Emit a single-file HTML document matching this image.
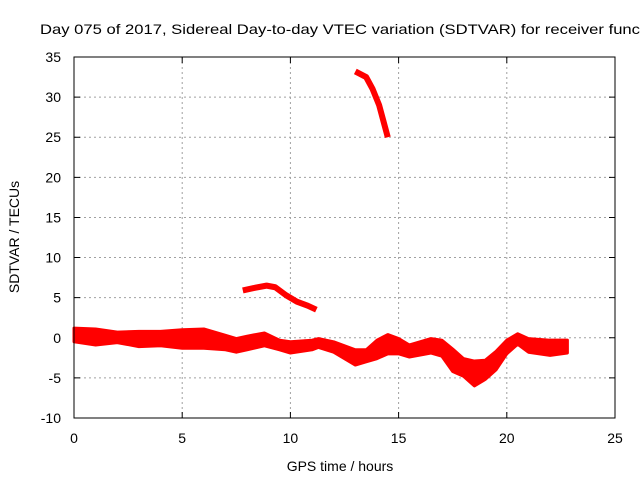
<!DOCTYPE html>
<html><head><meta charset="utf-8"><style>
html,body{margin:0;padding:0;background:#fff;}
svg{display:block;font-family:"Liberation Sans",sans-serif;}
</style></head><body>
<svg id="chart" width="640" height="480" viewBox="0 0 640 480">
<rect x="0" y="0" width="640" height="480" fill="#fff"/>
<text x="40" y="34" font-size="14" fill="#000" textLength="600" lengthAdjust="spacingAndGlyphs">Day 075 of 2017, Sidereal Day-to-day VTEC variation (SDTVAR) for receiver func</text>
<g id="grid"></g>
<g id="axes"></g>
<g id="series"></g>
<rect x="74" y="57" width="541" height="361" fill="none" stroke="#000" stroke-width="1"/>
<text x="340" y="471" font-size="14" text-anchor="middle">GPS time / hours</text>
<text transform="translate(19,237) rotate(-90)" font-size="14" text-anchor="middle">SDTVAR / TECUs</text>
</svg>
<script>
const xTicks = [0,5,10,15,20,25];
const yTicks = [-10,-5,0,5,10,15,20,25,30,35];
const bandHours = [0,1,2,3,4,5,6,7,7.5,8,8.8,9.5,10,11,11.3,12,13,13.5,14,14.5,15,15.5,16.5,17,17.5,18,18.5,19,19.5,20,20.5,21,22,22.8];
const bandUpper = [1.2,1.1,0.7,0.8,0.8,1.0,1.1,0.3,-0.1,0.2,0.6,-0.3,-0.5,-0.3,-0.1,-0.5,-1.5,-1.5,-0.3,0.4,-0.1,-0.9,-0.1,-0.3,-1.4,-2.6,-2.9,-2.8,-1.7,-0.3,0.5,-0.1,-0.3,-0.3];
const bandLower = [-0.5,-0.9,-0.6,-1.1,-1.0,-1.3,-1.3,-1.5,-1.8,-1.5,-1.0,-1.5,-1.9,-1.5,-1.2,-1.8,-3.4,-3.0,-2.6,-2.0,-2.0,-2.4,-1.9,-2.3,-4.2,-4.8,-6.0,-5.2,-4.0,-2.0,-0.8,-1.8,-2.2,-1.9];
const arcHours = [7.8,8.3,8.9,9.3,9.8,10.3,10.8,11.2];
const arcValues = [5.9,6.2,6.5,6.3,5.3,4.5,4.0,3.5];
const highHours = [13,13.5,13.8,14.1,14.3,14.5];
const highValues = [33.2,32.5,31,29,27,25];

const X0=74,X1=615,Y0=418,Y1=57;
const sx=h=>X0+(h-0)/(25-0)*(X1-X0);
const sy=v=>Y0-(v+10)/(45)*(Y0-Y1);
const NS="http://www.w3.org/2000/svg";
const grid=document.getElementById('grid'),axes=document.getElementById('axes'),ser=document.getElementById('series');
function mk(t,a,p){const e=document.createElementNS(NS,t);for(const k in a)e.setAttribute(k,a[k]);p.appendChild(e);return e;}
xTicks.forEach(t=>{
  const x=sx(t);
  if(t>0&&t<25){const g=mk('line',{x1:x,x2:x,y1:Y1,y2:Y0,stroke:'#a0a0a0','stroke-dasharray':'2,3'},grid);
  
  }
  const tk=mk('path',{d:`M${x},${Y0}v-6M${x},${Y1}v6`,stroke:'#000'},axes);
  
  
  const l=mk('text',{x:x,y:Y0+25,'font-size':14,'text-anchor':'middle'},axes);l.textContent=t;
  
  
});
yTicks.forEach(t=>{
  const y=sy(t);
  if(t>-10&&t<35){const g=mk('line',{x1:X0,x2:X1,y1:y,y2:y,stroke:'#a0a0a0','stroke-dasharray':'2,3'},grid);
  
  }
  const tk=mk('path',{d:`M${X0},${y}h6M${X1},${y}h-6`,stroke:'#000'},axes);
  
  
  const l=mk('text',{x:X0-13,y:y+5,'font-size':14,'text-anchor':'end'},axes);l.textContent=t;
  
  
});
let pts=bandHours.map((h,i)=>sx(h)+','+sy(bandUpper[i]));
for(let i=bandHours.length-1;i>=0;i--)pts.push(sx(bandHours[i])+','+sy(bandLower[i]));
const band=mk('polygon',{points:pts.join(' '),fill:'#ff0000',stroke:'#ff0000','stroke-width':3,'stroke-linejoin':'round'},ser);


const arc=mk('polyline',{points:arcHours.map((h,i)=>sx(h)+','+sy(arcValues[i])).join(' '),fill:'none',stroke:'#ff0000','stroke-width':6,'stroke-linejoin':'round'},ser);


const hi=mk('polyline',{points:highHours.map((h,i)=>sx(h)+','+sy(highValues[i])).join(' '),fill:'none',stroke:'#ff0000','stroke-width':6,'stroke-linejoin':'round'},ser);


</script>
</body></html>
